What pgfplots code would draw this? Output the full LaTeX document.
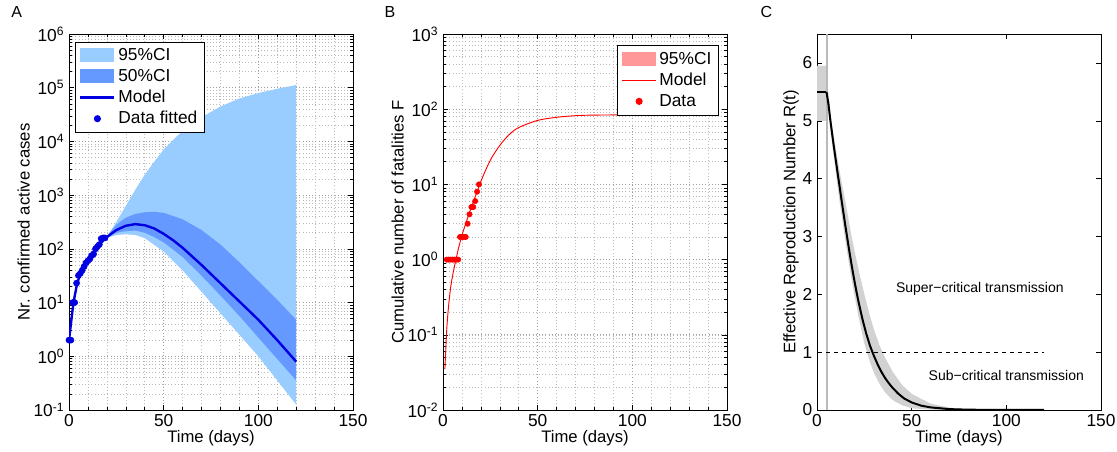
\documentclass[border=0pt]{standalone}
\usepackage{pgfplots}
\pgfplotsset{compat=1.18}
\usepackage{fontspec}
\setmainfont{Liberation Sans}
\definecolor{ciA}{RGB}{153,204,255}
\definecolor{ciB}{RGB}{102,153,255}
\definecolor{lnA}{RGB}{0,0,225}
\definecolor{pinkci}{RGB}{255,153,153}
\definecolor{grayci}{RGB}{210,210,210}
\pgfplotsset{
 mycommon/.style={scale only axis,width=213pt,height=282pt,anchor=south west,
  xmin=0,xmax=150,xtick={0,50,100,150},tick align=inside,
  xlabel={Time (days)},xlabel style={yshift=4pt},
  ticklabel style={font=\fontsize{13}{14}\selectfont},
  label style={font=\fontsize{12.5}{14}\selectfont},
  /pgf/number format/assume math mode=true,
  axis line style={line width=0.6pt},
  tick style={black,line width=0.4pt},
  major tick length=4pt, minor tick length=2pt},
 mylogax/.style={grid=both,minor x tick num=4,
  major grid style={dotted,gray!75,line width=0.5pt},
  minor grid style={dotted,gray!55,line width=0.4pt},
  yticklabel={\pgfmathtruncatemacro\e{round(\tick/2.302585)}10\textsuperscript{\e}},
  legend style={font=\fontsize{13}{14}\selectfont,draw=black,line width=0.7pt,row sep=1pt,inner sep=3pt},
  legend cell align=left},
}
\begin{document}
\begin{tikzpicture}
\path[use as bounding box] (0,0) rectangle (837.75pt,339pt);
\node[anchor=north west,font=\fontsize{12}{13}\selectfont] at (5pt,338pt) {A};
\node[anchor=north west,font=\fontsize{12}{13}\selectfont] at (285pt,338pt) {B};
\node[anchor=north west,font=\fontsize{12}{13}\selectfont] at (567pt,338pt) {C};
% ---------- A
\begin{axis}[ymode=log,mycommon,mylogax,at={(51.75pt,31.5pt)},ymin=0.1,ymax=1e6,
 ylabel={Nr. confirmed active cases},ylabel style={yshift=-4pt},
 legend pos=north west, legend style={at={(0.02,0.98)}}]
\addplot[fill=ciA,draw=none,legend image code/.code={\fill[ciA,draw=none] (0cm,-0.17cm) rectangle (0.9cm,0.2cm);}] table[y expr=10^\thisrow{ly}] {
t ly
18 2.18
20 2.22
25 2.5
30 2.8
35 3.1
40 3.38
45 3.62
50 3.85
60 4.2
70 4.45
80 4.65
90 4.8
100 4.9
110 4.98
120 5.05
120 -0.9
110 -0.45
100 0.0
90 0.4
80 0.8
70 1.2
60 1.6
50 1.95
40 2.2
35 2.26
30 2.27
25 2.26
20 2.2
18 2.18
};
\addlegendentry{95\%CI}
\addplot[fill=ciB,draw=none,legend image code/.code={\fill[ciB,draw=none] (0cm,-0.17cm) rectangle (0.9cm,0.2cm);}] table[y expr=10^\thisrow{ly}] {
t ly
19 2.2
25 2.45
30 2.58
35 2.65
40 2.68
45 2.69
50 2.67
60 2.55
70 2.35
80 2.08
90 1.75
100 1.4
110 1.05
120 0.68
120 -0.45
110 -0.05
100 0.35
90 0.75
80 1.13
70 1.5
60 1.85
50 2.12
45 2.22
40 2.3
35 2.34
30 2.33
25 2.3
19 2.2
};
\addlegendentry{50\%CI}
\addplot[lnA,line width=1.8pt,legend image code/.code={\draw[lnA,line width=1.8pt] (0cm,0cm) -- (0.9cm,0cm);}] table[y expr=10^\thisrow{ly}] {
t ly
0 0.3
1 0.6
2 0.9
3 1.12
4 1.3
5 1.43
7 1.62
10 1.8
13 1.95
16 2.08
20 2.22
25 2.35
30 2.43
35 2.46
40 2.44
45 2.38
50 2.28
55 2.16
60 2.02
70 1.7
80 1.36
90 1.02
100 0.68
110 0.3
120 -0.1
};
\addlegendentry{Model}
\addplot[only marks,mark=*,lnA,mark size=2.3pt,legend image code/.code={\fill[lnA] (0.45cm,0cm) circle (2.3pt);}] coordinates {
(0,2)(1,2)(2,10)(3,10)(4,23)(5,32)(6,35)(7,40)(8,47)(9,55)(10,60)(11,65)(12,75)(13,80)(14,100)(15,110)(16,120)(17,155)(18,160)(19,160)};
\addlegendentry{Data fitted}
\end{axis}
% ---------- B
\begin{axis}[ymode=log,mycommon,mylogax,at={(332.25pt,31.5pt)},ymin=0.01,ymax=1000,
 ylabel={Cumulative number of fatalities F},ylabel style={yshift=-4pt},
 legend pos=north east]
\addlegendimage{legend image code/.code={\fill[pinkci,draw=none] (0cm,-0.17cm) rectangle (0.9cm,0.2cm);}}
\addlegendentry{95\%CI}
\addplot[red,line width=0.7pt,smooth,legend image code/.code={\draw[red,line width=0.7pt] (0cm,0cm) -- (0.9cm,0cm);}] coordinates {
(1,0.035)(2,0.12)(3,0.25)(4,0.42)(5,0.6)(6,0.8)(8,1.35)(10,2.1)(12,3.0)(15,5)(18,8)(20,11)(25,21)(30,33)(35,46)(40,57)(50,71)(60,78)(70,82)(80,83.5)(100,84)(120,84)};
\addlegendentry{Model}
\addplot[only marks,mark=*,red,mark size=2pt,legend image code/.code={\fill[red] (0.45cm,0cm) circle (2.3pt);}] coordinates {
(2,1)(3,1)(4,1)(5,1)(6,1)(7,1)(8,1)(9,2)(10,2)(11,2)(12,2)(13,3)(14,4)(15,5)(16,5)(17,6)(18,8)(19,10)};
\addlegendentry{Data}
\end{axis}
% ---------- C
\begin{axis}[mycommon,at={(612.75pt,31.5pt)},ymin=0,ymax=6.5,ytick={0,...,6},
 ylabel={Effective Reproduction Number R(t)},ylabel style={yshift=-4pt}]
\addplot[fill=grayci,draw=none] table {
t y
0 5.95
5 5.95
5.5 5.6
8 4.9
10 4.5
12 4.12
15 3.6
18 3.05
20 2.72
22 2.42
25 2.0
28 1.62
30 1.4
33 1.12
36 0.9
40 0.66
45 0.43
50 0.28
60 0.11
70 0.04
80 0.015
100 0.002
120 0
120 0
70 0
60 0.005
50 0.03
45 0.08
40 0.17
36 0.3
33 0.45
30 0.65
28 0.82
25 1.15
22 1.6
20 1.95
18 2.3
15 2.92
12 3.58
10 4.08
8 4.6
5.5 5.35
5 5.0
0 5.0
};
\addplot[gray!55,line width=1.5pt] coordinates {(5.5,0)(5.5,6.5)};
\addplot[black,dashed,line width=0.5pt] coordinates {(5,1)(120,1)};
\addplot[black,line width=1.5pt] coordinates {(0,5.5)(5,5.5)};
\addplot[black,line width=1.5pt] coordinates {
(5,5.5)(6,5.3)(7,5.02)(8,4.77)(9,4.53)(10,4.3)(11,4.07)(12,3.85)(13,3.62)(14,3.4)(15,3.18)(16,2.97)(17,2.76)(18,2.56)(19,2.37)(20,2.19)(21,2.02)(22,1.86)(24,1.57)(26,1.32)(28,1.11)(30,0.94)(32,0.79)(34,0.66)(36,0.55)(38,0.46)(40,0.38)(43,0.28)(46,0.2)(50,0.13)(55,0.075)(60,0.045)(70,0.015)(80,0.005)(100,0.001)(120,0)};
\node[font=\fontsize{10.5}{12}\selectfont] at (axis cs:86,2.1) {Super\textminus critical transmission};
\node[font=\fontsize{10.5}{12}\selectfont] at (axis cs:100,0.6) {Sub\textminus critical transmission};
\end{axis}
\end{tikzpicture}
\end{document}
